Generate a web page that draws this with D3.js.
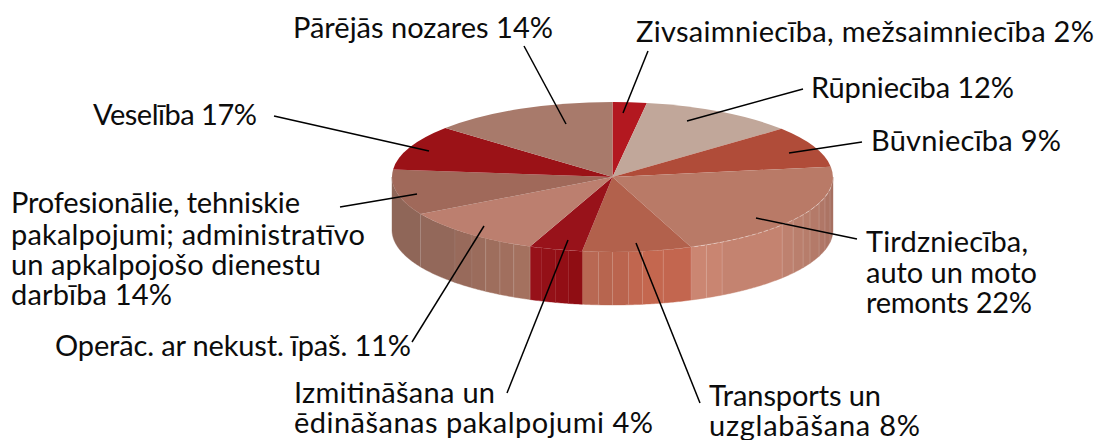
<!DOCTYPE html>
<html><head><meta charset="utf-8">
<script src="https://cdn.jsdelivr.net/npm/d3@7"></script>
<style>html,body{margin:0;padding:0;background:#fff}svg{display:block}</style>
</head><body><svg id="c" width="1098" height="440"></svg>
<script>
// Sectors in drawing order, clockwise from twelve o'clock
const categories = ["Zivsaimniecība","Rūpniecība","Būvniecība","Tirdzniecība","Transports","Izmitināšana","Operācijas","Profesionālie","Veselība","Pārējās"];
// Drawn share of the pie
const sliceShares = [2.5,11.4,8.9,21.4,8.0,3.9,10.7,9.8,9.7,13.7];
const topColors = ["#b31820","#c1a79a","#b04c39","#b97a67","#b2614c","#98121a","#bc7f6f","#a0695a","#9b1217","#a87a6b"];
// Facet edges of the rim, degrees clockwise from the top
const rimFacets = [99.4,105.5,110.5,116.4,120.2,125,129.7,150.2,154.8,166.7,172.2,175.8,180,183.6,191.5,195,198.7,206.6,210.7,215.1,219.6,225.6];
const rimShadeAngles = [90,129,150,159,159.1,172,180,188,188.1,202,202.1,225,240,270];
const rimShadeColors = ["#a36e5f","#bf8270","#c88470","#cc8673","#c2664f","#c4674f","#b6634d","#b96a55","#8e0c12","#98121a","#a6725f","#96695a","#90685a","#8f6457"];
// Text lines and their painted widths
const labelLines = [
 ["Pārējās nozares 14%",293,38,260],
 ["Zivsaimniecība, mežsaimniecība 2%",636,42,458],
 ["Rūpniecība 12%",811,98,203],
 ["Būvniecība 9%",871,151,190],
 ["Veselība 17%",93,125,164],
 ["Profesionālie, tehniskie",11,213,289],
 ["pakalpojumi; administratīvo",11,245,354],
 ["un apkalpojošo dienestu",11,275,310],
 ["darbība 14%",11,305,161],
 ["Operāc. ar nekust. īpaš. 11%",55,356,356],
 ["Izmitināšana un",294,403,201],
 ["ēdināšanas pakalpojumi 4%",294,433,359],
 ["Tirdzniecība,",866,252,162],
 ["auto un moto",866,283,171],
 ["remonts 22%",866,313,166],
 ["Transports un",709,406,172],
 ["uzglabāšana 8%",709,436,211]
];
const leaders = [
 [524,46,566,124],[648,51,623,113],[803,89,687,121],[862,142,789,153],
 [857,239,756,218],[700,403,636,243],[507,393,568,240],[412,342,484,226],
 [340,207,417,194],[274,116,429,151]
];

const cx=612.5, cy=177, rx=220.5, ry=75, depth=53;
const svg=d3.select("#c");
const rad=d=>d*Math.PI/180;
const sx=d3.scaleLinear().domain([-1,1]).range([cx-rx,cx+rx]);
const sy=d3.scaleLinear().domain([-1,1]).range([cy+ry,cy-ry]);
const px=t=>sx(Math.sin(rad(t)));
const py=t=>sy(Math.cos(rad(t)));
const pie=d3.pie().sort(null).value(d=>d)(sliceShares);
const deg=r=>r*180/Math.PI;
const shade=d3.scaleLinear().domain(rimShadeAngles).range(rimShadeColors);

// Rim bands: slice edges plus facet edges within the visible half
const edges=[];
pie.forEach((s,i)=>{
  const a=Math.max(90,deg(s.startAngle)), b=Math.min(270,deg(s.endAngle));
  if(b<=a) return;
  const inner=rimFacets.filter(f=>f>a&&f<b);
  const stops=[a,...inner,b];
  d3.pairs(stops).forEach(([p,q])=>edges.push({p,q,i}));
});
const rimLine=d3.line();
const bandPath=(p,q)=>{
  const ts=d3.range(p,q,0.5).concat(q);
  const top=ts.map(t=>[px(t),py(t)]);
  const bot=ts.slice().reverse().map(t=>[px(t),py(t)+depth]);
  return rimLine(top.concat(bot))+"Z";
};
svg.append("g").selectAll("path").data(edges).join("path")
  .attr("d",d=>bandPath(d.p,d.q))
  .attr("fill",d=>shade((d.p+d.q)/2))
  .attr("stroke",d=>shade((d.p+d.q)/2)).attr("stroke-width",0.4);
svg.append("g").selectAll("line").data(edges.filter(d=>d.p>90)).join("line")
  .attr("x1",d=>px(d.p)).attr("x2",d=>px(d.p))
  .attr("y1",d=>py(d.p)).attr("y2",d=>py(d.p)+depth)
  .attr("stroke","#fff").attr("stroke-width",0.8)
  .attr("stroke-opacity",d=>d.i===5?0.04:(d.i===6&&d.p>219&&d.p<226?0.1:0.2));

// Top face
const arc=d3.arc().innerRadius(0).outerRadius(1);
svg.append("g").attr("transform",`translate(${cx},${cy}) scale(${rx},${ry})`)
  .selectAll("path").data(pie).join("path")
  .attr("d",arc).attr("fill",(d,i)=>topColors[i]);

// Lit dashed edge of the largest sector
const big=pie[3];
svg.append("path")
  .attr("d",d3.line()(d3.range(Math.max(90,deg(big.startAngle))+8,deg(big.endAngle),1).map(t=>[px(t),py(t)])))
  .attr("fill","none").attr("stroke","#fff").attr("stroke-opacity",0.5)
  .attr("stroke-width",0.8).attr("stroke-dasharray","4 2.5");

// Leaders
svg.append("g").selectAll("line").data(leaders).join("line")
  .attr("x1",d=>d[0]).attr("y1",d=>d[1]).attr("x2",d=>d[2]).attr("y2",d=>d[3])
  .attr("stroke","#000").attr("stroke-width",1.5);

// Labels
svg.append("g").selectAll("text").data(labelLines).join("text")
  .attr("x",d=>d[1]).attr("y",d=>d[2])
  .attr("textLength",d=>d[3]).attr("lengthAdjust","spacing")
  .attr("font-family","Lato, 'Noto Sans', sans-serif").attr("font-size",29)
  .attr("fill","#0c0c0c").text(d=>d[0]);
</script></body></html>
